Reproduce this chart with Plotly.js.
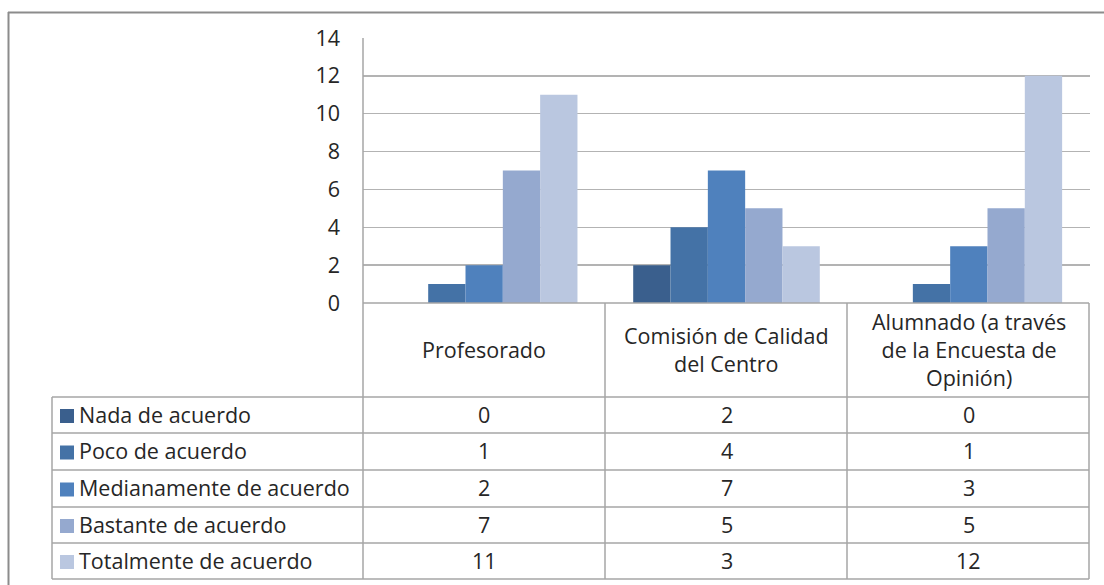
<!DOCTYPE html>
<html>
<head>
<meta charset="utf-8">
<script src="https://cdn.plot.ly/plotly-3.0.1.min.js"></script>
<style>html,body{margin:0;padding:0;background:#fff;}#chart{width:1104px;height:585px;}</style>
</head>
<body>
<div id="chart"></div>
<script>
// ---- data ----
const categories = ["Profesorado", "Comisión de Calidad del Centro", "Alumnado (a través de la Encuesta de Opinión)"];
const categoryLabels = ["Profesorado", "Comisión de Calidad<br>del Centro", "Alumnado (a través<br>de la Encuesta de<br>Opinión)"];
const seriesNames = ["Nada de acuerdo", "Poco de acuerdo", "Medianamente de acuerdo", "Bastante de acuerdo", "Totalmente de acuerdo"];
const nada = [0, 2, 0];
const poco = [1, 4, 1];
const medianamente = [2, 7, 3];
const bastante = [7, 5, 5];
const totalmente = [11, 3, 12];
const yTicks = [0, 2, 4, 6, 8, 10, 12, 14];
// ---- style ----
const seriesValues = [nada, poco, medianamente, bastante, totalmente];
const colors = ["#3A5F8D", "#4472A6", "#4F81BD", "#95A9CF", "#BAC7E0"];
const W = 1104, H = 585;
const px = x => x / W;
const py = y => 1 - y / H;
const FONT = "'Open Sans', Lato, sans-serif";
const TXT = "#262626";
const FS = 21.5;
const LINE = "#A6A6A6";

const traces = seriesNames.map((n, i) => ({
  type: "bar", name: n, x: categories, y: seriesValues[i],
  marker: {color: colors[i], line: {width: 0}},
  hoverinfo: "x+y+name"
}));

// table geometry (pixels)
const plotL = 363, plotR = 1090, tableL = 52;
const colEdges = [plotL, 605, 847, 1089];
const rowEdges = [397, 433, 470, 507, 543, 579];
const headerTop = 303;

const shapes = [];
const line = (x0, y0, x1, y1, color, w) => shapes.push({type: "line", xref: "paper", yref: "paper",
  x0: px(x0), y0: py(y0), x1: px(x1), y1: py(y1), line: {color: color, width: w}, layer: "above"});
// outer frame
line(8, 12.5, W, 12.5, "#8C8C8C", 2);
line(8.5, 12, 8.5, H, "#8C8C8C", 2);
// axis line / table verticals
line(plotL, 38, plotL, rowEdges[rowEdges.length - 1], LINE, 1.5);
colEdges.slice(1).forEach(x => line(x, headerTop, x, rowEdges[rowEdges.length - 1], LINE, 1.5));
line(tableL, rowEdges[0], tableL, rowEdges[rowEdges.length - 1], LINE, 1.5);
// horizontals
line(plotL, headerTop, colEdges[3], headerTop, LINE, 1.5);
rowEdges.forEach(y => line(tableL, y, colEdges[3], y, LINE, 1.5));

const annotations = [];
// header labels
categories.forEach((c, j) => annotations.push({xref: "x", yref: "paper", x: c, y: py((headerTop + rowEdges[0]) / 2 - 1),
  text: categoryLabels[j], showarrow: false, xanchor: "center", yanchor: "middle",
  font: {family: FONT, size: FS, color: TXT}}));
// rows
seriesNames.forEach((n, i) => {
  const yc = (rowEdges[i] + rowEdges[i + 1]) / 2;
  shapes.push({type: "rect", xref: "paper", yref: "paper", x0: px(60), x1: px(74), y0: py(yc - 6), y1: py(yc + 8),
    fillcolor: colors[i], line: {width: 0}});
  annotations.push({xref: "paper", yref: "paper", x: px(77), y: py(yc - 1), text: n, showarrow: false,
    xanchor: "left", yanchor: "middle", font: {family: FONT, size: FS, color: TXT}});
  categories.forEach((c, j) => annotations.push({xref: "x", yref: "paper", x: c, y: py(yc - 1),
    text: String(seriesValues[i][j]), showarrow: false, xanchor: "center", yanchor: "middle",
    font: {family: FONT, size: FS, color: TXT}}));
});

const layout = {
  width: W, height: H, margin: {l: 0, r: 0, t: 0, b: 0},
  paper_bgcolor: "#fff", plot_bgcolor: "#fff",
  showlegend: false, barmode: "group", bargap: 0.23, bargroupgap: 0,
  xaxis: {domain: [px(plotL), px(plotR)], showticklabels: false, showgrid: false, zeroline: false,
    showline: false, ticks: "", fixedrange: true},
  yaxis: {domain: [py(303), py(38)], range: [0, 14], tickvals: yTicks, ticks: "", ticklabelstandoff: 22,
    showgrid: true, gridcolor: "#B3B3B3", gridwidth: 1.5, zeroline: false, showline: false,
    tickfont: {family: FONT, size: FS, color: TXT}, fixedrange: true},
  shapes: shapes, annotations: annotations,
  font: {family: FONT, color: TXT}
};
Plotly.newPlot("chart", traces, layout, {displayModeBar: false, staticPlot: true});
</script>
</body>
</html>
